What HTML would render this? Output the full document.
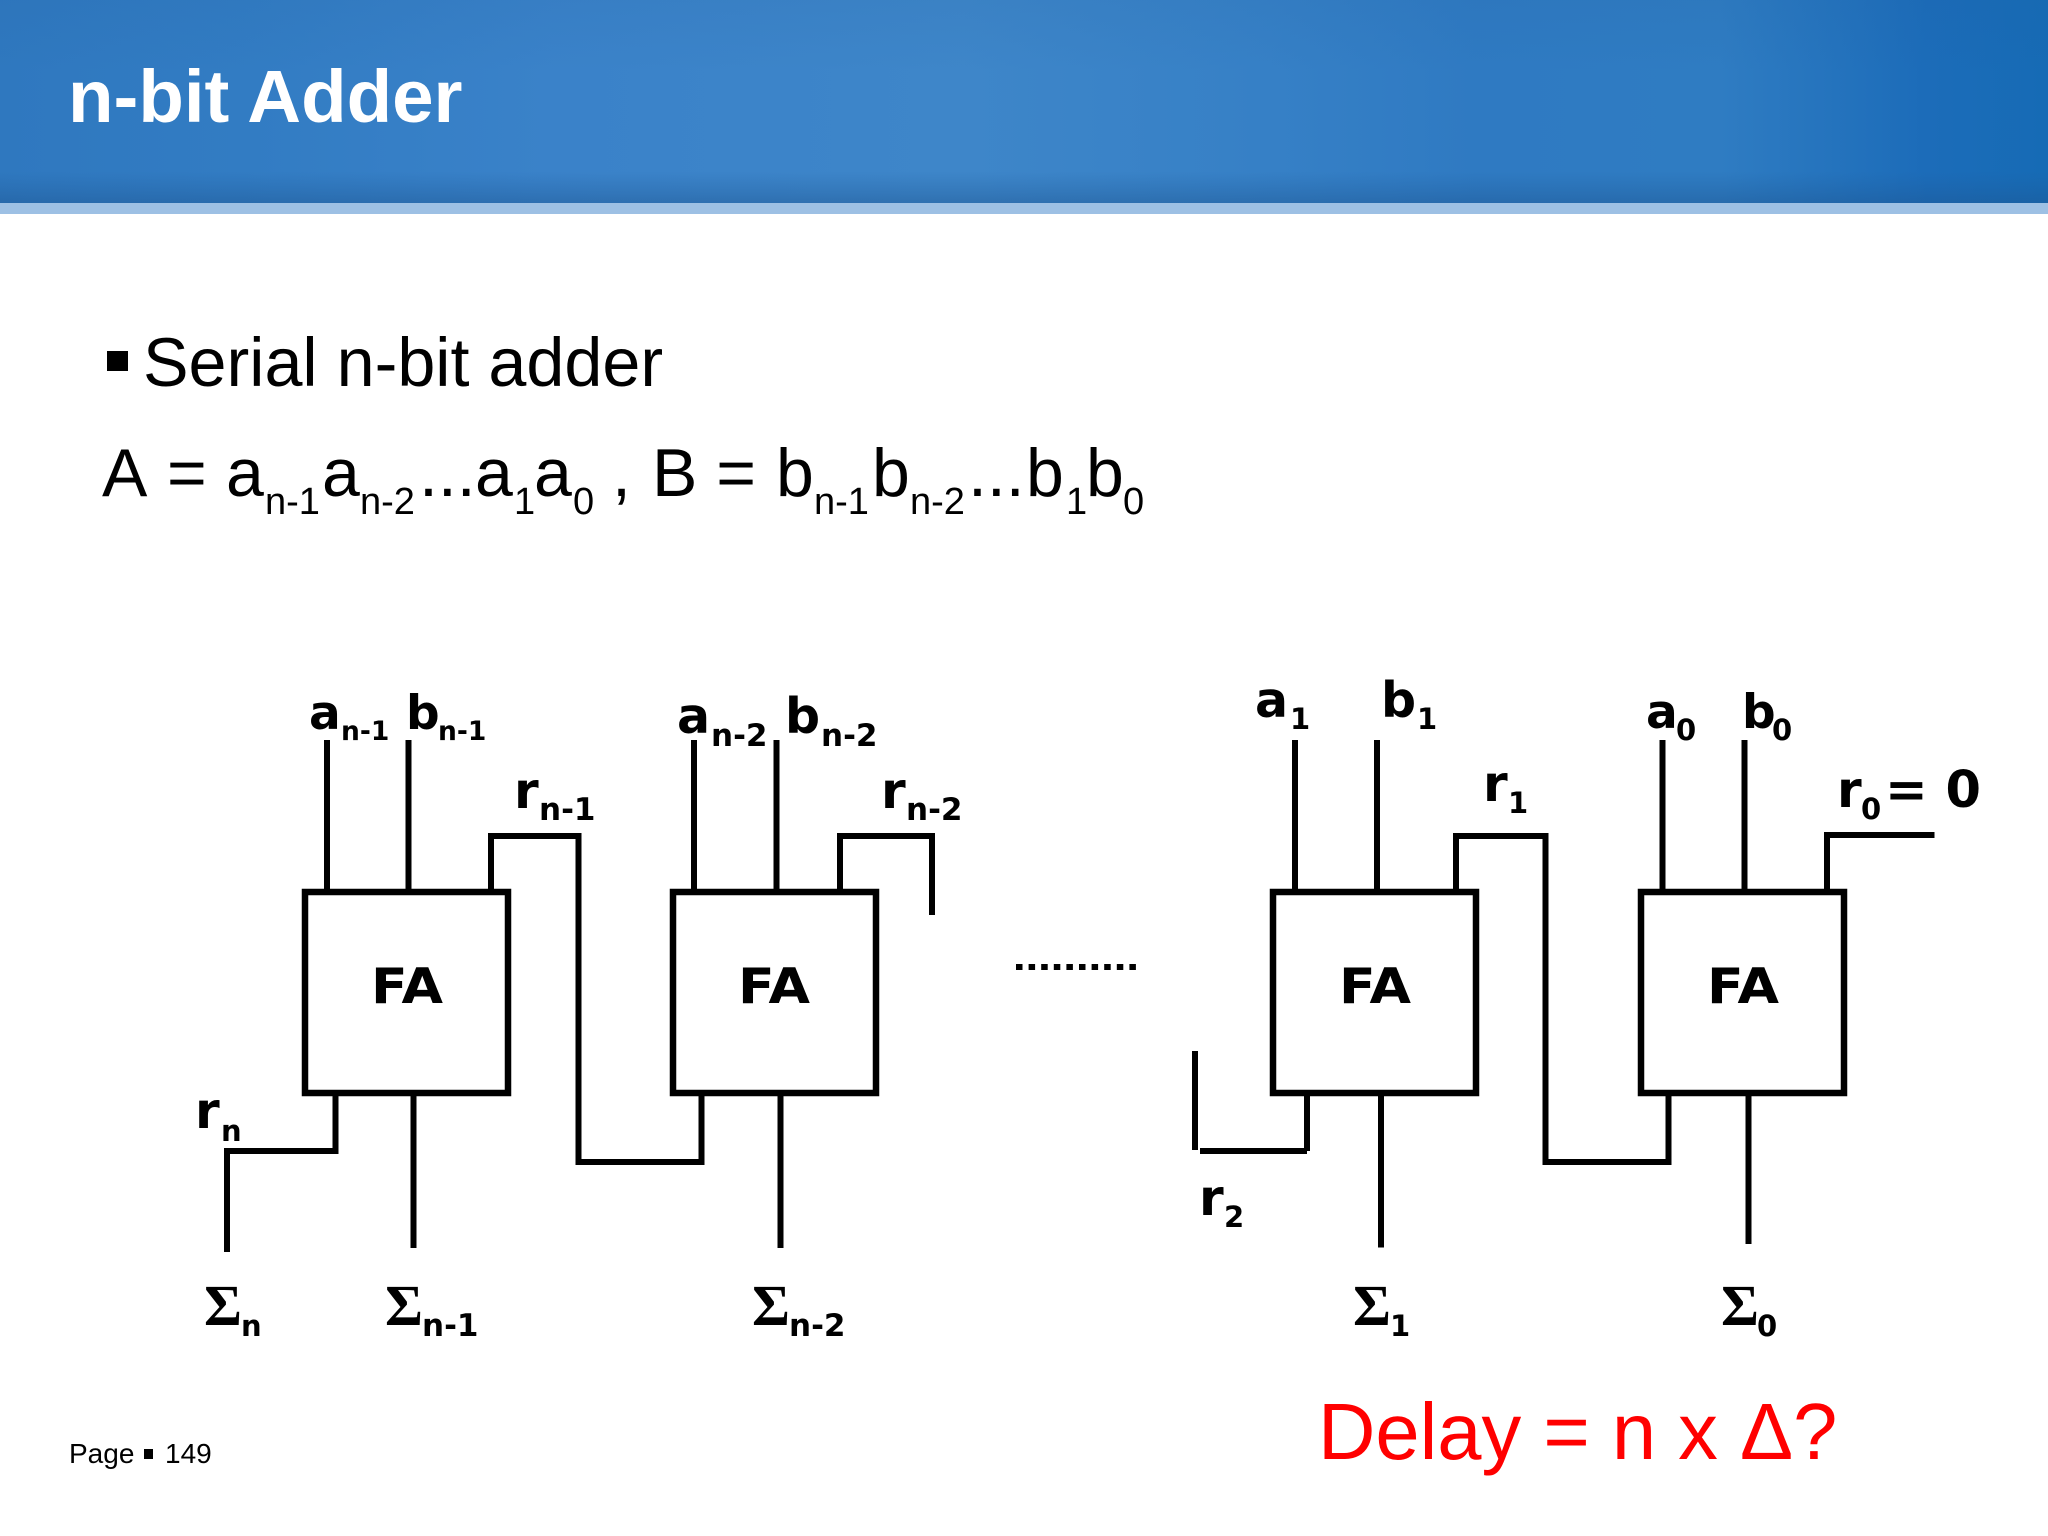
<!DOCTYPE html>
<html><head><meta charset="utf-8"><title>n-bit Adder</title>
<style>
html,body{margin:0;padding:0;background:#fff;width:2048px;height:1536px;overflow:hidden}
svg{display:block;position:absolute;left:0;top:0}
.t{font-family:"Liberation Sans",sans-serif}
.d{font-family:"DejaVu Sans",sans-serif;font-weight:bold;fill:#000}
.s{font-size:29px}
.m{font-size:31px}
</style></head>
<body>
<svg width="2048" height="1536" viewBox="0 0 2048 1536" xmlns="http://www.w3.org/2000/svg">
<defs>
<linearGradient id="h" x1="0" x2="1" y1="0" y2="0">
<stop offset="0" stop-color="#2f78bf"/><stop offset=".12" stop-color="#327cc3"/><stop offset=".27" stop-color="#3a82c9"/><stop offset=".47" stop-color="#3e86c9"/><stop offset=".62" stop-color="#3680c6"/><stop offset=".72" stop-color="#2f7ac2"/><stop offset=".84" stop-color="#2f7cc2"/><stop offset=".94" stop-color="#1c6cb9"/><stop offset="1" stop-color="#166bb5"/>
</linearGradient>
<linearGradient id="v" x1="0" x2="0" y1="0" y2="1">
<stop offset="0" stop-color="#1f5c9c" stop-opacity=".10"/><stop offset=".35" stop-color="#1f5c9c" stop-opacity="0"/><stop offset=".84" stop-color="#1f5c9c" stop-opacity="0"/><stop offset="1" stop-color="#1d5590" stop-opacity=".45"/>
</linearGradient>
</defs>
<rect x="0" y="0" width="2048" height="204" fill="url(#h)"/>
<rect x="0" y="0" width="2048" height="204" fill="url(#v)"/>
<rect x="0" y="203" width="2048" height="11" fill="#9dc0e4"/>
<text class="t" x="68" y="122" font-size="74.5" font-weight="bold" fill="#fff">n-bit Adder</text>

<rect x="107" y="351" width="21" height="20" fill="#000"/>
<text class="t" x="143" y="386" font-size="68.3" fill="#000">Serial n-bit adder</text>
<text class="t" font-size="68" fill="#000" y="496"><tspan x="102">A</tspan><tspan x="167">=</tspan><tspan x="226">a</tspan><tspan x="322">a</tspan><tspan x="419">...</tspan><tspan x="475">a</tspan><tspan x="534">a</tspan><tspan x="612">,</tspan><tspan x="652">B =</tspan><tspan x="776">b</tspan><tspan x="872">b</tspan><tspan x="968">...</tspan><tspan x="1026">b</tspan><tspan x="1086">b</tspan></text>
<text class="t" font-size="38" fill="#000" y="514"><tspan x="265">n-1</tspan><tspan x="360">n-2</tspan><tspan x="514">1</tspan><tspan x="573">0</tspan><tspan x="814">n-1</tspan><tspan x="910">n-2</tspan><tspan x="1066">1</tspan><tspan x="1123">0</tspan></text>

<g fill="none" stroke="#000" stroke-width="6" stroke-linecap="butt" stroke-linejoin="miter">
<rect x="305" y="892" width="203" height="201" stroke-width="6.5"/>
<rect x="673" y="892" width="203" height="201" stroke-width="6.5"/>
<rect x="1273" y="892" width="203" height="201" stroke-width="6.5"/>
<rect x="1641" y="892" width="203" height="201" stroke-width="6.5"/>
<path d="M327 740V890M408.5 740V890"/>
<path d="M491 890V836H578.5V1162H701.5V1096"/>
<path d="M694 740V890M776.5 740V890"/>
<path d="M840 890V836H932V915"/>
<path d="M335.5 1096V1151H227V1252"/>
<path d="M413.5 1096V1248M780.5 1096V1248"/>
<path d="M1295 740V890M1377 740V890"/>
<path d="M1456 890V836H1545.5V1162H1668.5V1096"/>
<path d="M1662.5 740V890M1744.5 740V890"/>
<path d="M1827 890V835H1934.5"/>
<path d="M1195 1051V1150M1200 1151H1307M1307 1096V1151"/>
<path d="M1381 1096V1247.5M1748.5 1096V1244"/>
<path d="M1016 967H1140" stroke-width="6" stroke-dasharray="6.5 6.1"/>
</g>

<g class="d" font-size="49">
<text x="371" y="1003" textLength="72" lengthAdjust="spacingAndGlyphs">FA</text><text x="738" y="1003" textLength="72" lengthAdjust="spacingAndGlyphs">FA</text><text x="1339" y="1003" textLength="72" lengthAdjust="spacingAndGlyphs">FA</text><text x="1707" y="1003" textLength="72" lengthAdjust="spacingAndGlyphs">FA</text>
</g>

<g class="d" font-size="47">
<text x="309" y="729">a</text><text x="406" y="729">b</text>
<text x="677" y="733" font-size="49">a</text><text x="785" y="733" font-size="49">b</text>
<text x="514" y="808" font-size="50">r</text><text x="881" y="808" font-size="50">r</text>
<text x="195" y="1128" font-size="50">r</text>
<text x="1255" y="717" font-size="49">a</text><text x="1381" y="717" font-size="49">b</text>
<text x="1483" y="801" font-size="50">r</text>
<text x="1646" y="728">a</text><text x="1742" y="728">b</text>
<text x="1837" y="807" font-size="50">r</text>
<text x="1199" y="1215" font-size="50">r</text>
<text x="1885" y="807" font-size="51">= 0</text>
</g>
<g class="d s">
<text x="341" y="740" font-size="26.5">n-1</text><text x="438" y="740" font-size="26.5">n-1</text>
<text x="221" y="1141">n</text>
<text x="1290" y="729">1</text><text x="1417" y="729">1</text>
<text x="1508" y="813">1</text>
<text x="1676" y="740">0</text><text x="1772" y="740">0</text>
<text x="1861" y="819">0</text>
<text x="1224" y="1227">2</text>
<text x="241" y="1336">n</text>
<text x="1390" y="1336">1</text><text x="1757" y="1336">0</text>
</g>
<g class="d m">
<text x="711" y="746">n-2</text><text x="821" y="746">n-2</text>
<text x="539" y="820">n-1</text><text x="906" y="820">n-2</text>
<text x="422" y="1336">n-1</text><text x="789" y="1336">n-2</text>
</g>
<g font-family="Liberation Serif, serif" font-weight="bold" font-size="58" fill="#000">
<text x="204" y="1325">Σ</text><text x="385" y="1325">Σ</text><text x="752" y="1325">Σ</text><text x="1353" y="1325">Σ</text><text x="1721" y="1325">Σ</text>
</g>

<text class="t" x="69" y="1463" font-size="28" fill="#000">Page</text>
<rect x="144" y="1449" width="9" height="10" fill="#000"/>
<text class="t" x="165" y="1463" font-size="28" fill="#000">149</text>
<text class="t" x="1318" y="1459" font-size="79.5" fill="#ff0000">Delay = n x Δ?</text>
</svg>
</body></html>
